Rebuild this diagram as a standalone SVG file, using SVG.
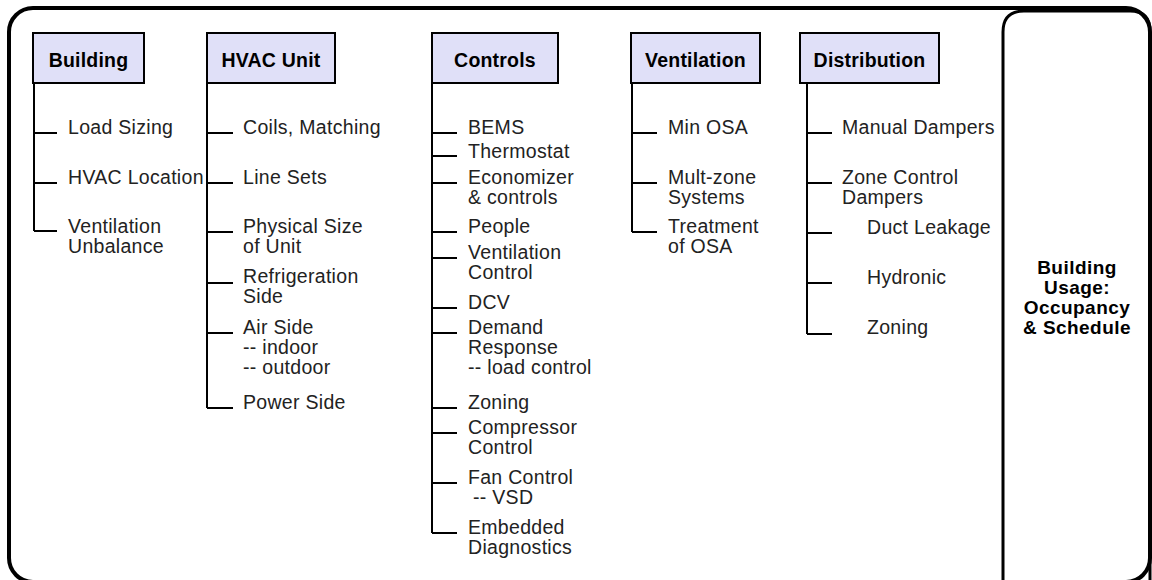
<svg xmlns="http://www.w3.org/2000/svg" width="1152" height="580" viewBox="0 0 1152 580">
<style>
.frame{fill:none;stroke:#000;stroke-width:4}
.panel{fill:none;stroke:#000;stroke-width:3}
.hdr rect{fill:#e0e0f8;stroke:#000;stroke-width:2}
.hdr text{font-family:"Liberation Sans",Arial,sans-serif;font-size:19.5px;font-weight:bold;text-anchor:middle;fill:#000;letter-spacing:0.2px}
.item{font-family:"Liberation Sans",Arial,sans-serif;font-size:19.5px;fill:#222;letter-spacing:0.3px}
.conn path{fill:none;stroke:#000;stroke-width:2}
.usage{font-family:"Liberation Sans",Arial,sans-serif;font-size:19px;font-weight:bold;text-anchor:middle;fill:#000;letter-spacing:0.45px}
</style>
<rect width="1152" height="580" fill="#fff"/>
<rect class="frame" x="9" y="8" width="1141" height="574" rx="24" ry="24"/>
<path class="panel" d="M1003 583 V32 Q1003 11 1024 11 H1130 Q1150 11 1150 31 V583"/>

<g id="connectors" class="conn">
<path d="M34 83 V231 M34 133 H57 M34 183 H57 M34 231 H57"/>
<path d="M207 83 V408 M207 133 H233 M207 183 H233 M207 232 H233 M207 283 H233 M207 333 H233 M207 408 H233"/>
<path d="M432 83 V533 M432 133 H457 M432 156 H457 M432 183 H457 M432 232 H457 M432 258 H457 M432 308 H457 M432 333 H457 M432 408 H457 M432 433 H457 M432 483 H457 M432 533 H457"/>
<path d="M632 83 V232 M632 133 H657 M632 183 H657 M632 232 H657"/>
<path d="M807 83 V334 M807 133 H832 M807 183 H832 M807 233 H832 M807 283 H832 M807 334 H832"/>
</g>

<g id="building" class="hdr"><rect x="33" y="33" width="111" height="50"/><text x="88.5" y="67">Building</text></g>
<g id="hvac" class="hdr"><rect x="207" y="33" width="128" height="50"/><text x="271" y="67">HVAC Unit</text></g>
<g id="controls" class="hdr"><rect x="432" y="33" width="126" height="50"/><text x="495" y="67">Controls</text></g>
<g id="ventilation" class="hdr"><rect x="631" y="33" width="129" height="50"/><text x="695.5" y="67">Ventilation</text></g>
<g id="distribution" class="hdr"><rect x="800" y="33" width="139" height="50"/><text x="869.5" y="67">Distribution</text></g>

<g id="building-items" class="item">
<text x="68" y="134">Load Sizing</text>
<text x="68" y="184">HVAC Location</text>
<text x="68" y="233">Ventilation</text>
<text x="68" y="253">Unbalance</text>
</g>

<g id="hvac-items" class="item">
<text x="243" y="134">Coils, Matching</text>
<text x="243" y="184">Line Sets</text>
<text x="243" y="233">Physical Size</text>
<text x="243" y="253">of Unit</text>
<text x="243" y="283">Refrigeration</text>
<text x="243" y="303">Side</text>
<text x="243" y="334">Air Side</text>
<text x="243" y="354">-- indoor</text>
<text x="243" y="374">-- outdoor</text>
<text x="243" y="409">Power Side</text>
</g>

<g id="controls-items" class="item">
<text x="468" y="134">BEMS</text>
<text x="468" y="158">Thermostat</text>
<text x="468" y="184">Economizer</text>
<text x="468" y="204">&amp; controls</text>
<text x="468" y="233">People</text>
<text x="468" y="259">Ventilation</text>
<text x="468" y="279">Control</text>
<text x="468" y="309">DCV</text>
<text x="468" y="334">Demand</text>
<text x="468" y="354">Response</text>
<text x="468" y="374">-- load control</text>
<text x="468" y="409">Zoning</text>
<text x="468" y="434">Compressor</text>
<text x="468" y="454">Control</text>
<text x="468" y="484">Fan Control</text>
<text x="473" y="504">-- VSD</text>
<text x="468" y="534">Embedded</text>
<text x="468" y="554">Diagnostics</text>
</g>

<g id="ventilation-items" class="item">
<text x="668" y="134">Min OSA</text>
<text x="668" y="184">Mult-zone</text>
<text x="668" y="204">Systems</text>
<text x="668" y="233">Treatment</text>
<text x="668" y="253">of OSA</text>
</g>

<g id="distribution-items" class="item">
<text x="842" y="134">Manual Dampers</text>
<text x="842" y="184">Zone Control</text>
<text x="842" y="204">Dampers</text>
<text x="867" y="234">Duct Leakage</text>
<text x="867" y="284">Hydronic</text>
<text x="867" y="334">Zoning</text>
</g>

<g id="usage" class="usage">
<text x="1077" y="274">Building</text>
<text x="1077" y="294">Usage:</text>
<text x="1077" y="314">Occupancy</text>
<text x="1077" y="334">&amp; Schedule</text>
</g>
</svg>
